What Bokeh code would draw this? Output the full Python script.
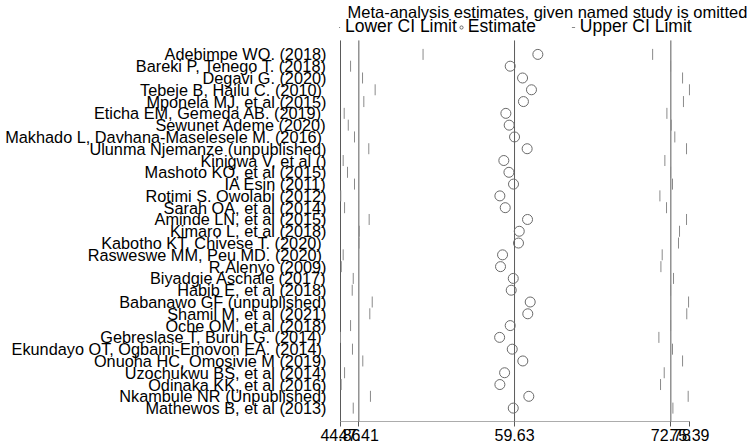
from math import pi
from bokeh.plotting import figure
from bokeh.models import Range1d, FixedTicker, Legend, LegendItem, Label
from bokeh.embed import file_html
from bokeh.resources import INLINE

studies = [
    "Adebimpe WO. (2018)",
    "Bareki P, Tenego T. (2018)",
    "Degavi G. (2020)",
    "Tebeje B, Hailu C.  (2010)",
    "Mponela MJ, et al (2015)",
    "Eticha EM, Gemeda AB.  (2019)",
    "Sewunet Ademe (2020)",
    "Makhado L, Davhana-Maselesele M.  (2016)",
    "Ulunma Njemanze (unpublished)",
    "Kinigwa V, et al ()",
    "Mashoto KO, et al (2015)",
    "IA Esin (2011)",
    "Rotimi S. Owolabi (2012)",
    "Sarah OA, et al (2014)",
    "Aminde LN, et al (2015)",
    "Kimaro L, et al (2018)",
    "Kabotho KT, Chivese T.  (2020)",
    "Rasweswe MM, Peu MD.  (2020)",
    "R.Alenyo (2009)",
    "Biyadgie Aschale (2017)",
    "Habib E, et al (2018)",
    "Babanawo GF (unpublished)",
    "Shamil M, et al (2021)",
    "Oche OM, et al (2018)",
    "Gebreslase T, Buruh G.  (2014)",
    "Ekundayo OT, Ogbaini-Emovon EA.  (2014)",
    "Onuoha HC, Omosivie M (2019)",
    "Uzochukwu BS, et al (2014)",
    "Odinaka KK, et al (2016)",
    "Nkambule NR (Unpublished)",
    "Mathewos B, et al (2013)",
]

estimate = [61.46, 59.29, 60.26, 60.96, 60.33, 58.95, 59.21, 59.63, 60.62, 58.79,
            59.19, 59.55, 58.48, 58.90, 60.65, 60.00, 59.94, 58.69, 58.53, 59.53,
            59.37, 60.86, 60.67, 59.29, 58.46, 59.45, 60.28, 58.85, 58.48, 60.75,
            59.53]

lower = [52.45, 46.76, 47.70, 48.69, 47.80, 46.26, 46.58, 47.07, 48.19, 46.18,
         46.52, 47.07, 45.99, 46.29, 48.22, 47.44, 47.42, 46.18, 46.03, 46.97,
         46.89, 48.46, 48.27, 46.76, 45.97, 46.91, 47.72, 46.29, 46.02, 48.32,
         46.97]

upper = [70.47, 71.88, 72.82, 73.36, 72.89, 71.59, 71.93, 72.21, 73.13, 71.43,
         71.88, 72.03, 71.04, 71.56, 73.13, 72.58, 72.50, 71.22, 71.12, 72.11,
         71.88, 73.29, 73.15, 71.88, 70.96, 72.03, 72.82, 71.38, 71.09, 73.26,
         72.06]

overall_estimate = 59.63
overall_lower = 47.41
overall_upper = 71.90

x_tick_labels = ["44.86", "47.41", "59.63", "72.78", "75.39"]
title_text = "Meta-analysis estimates, given named study is omitted"
legend_labels = ["Lower CI Limit", "Estimate", "Upper CI Limit"]

FONT = "Liberation Sans"
LINE = "#5a5a5a"
rows = list(range(len(studies)))
n = len(studies)
x_lo = min(lower)
x_hi = max(upper)

# layout padding (row units / fraction of data span) around the plot region
pad_top = 1.185
pad_bottom = 1.135
header_room = 4.572 - pad_top
span = x_hi - x_lo
right_room = span * 61.0 / 348.7
left_room = span * 1.0 / 348.7
y_bottom = n - 1 + pad_bottom

p = figure(width=750, height=445, output_backend="svg", toolbar_location=None,
           x_range=Range1d(x_lo - left_room, x_hi + right_room),
           y_range=Range1d(y_bottom, -pad_top - header_room),
           min_border_left=339, min_border_right=0, min_border_top=0,
           min_border_bottom=24)
p.outline_line_color = None
p.xgrid.visible = False
p.ygrid.visible = False
p.background_fill_color = "white"

# y-axis line and overall lower / estimate / upper reference lines
ref_x = [x_lo, overall_lower, overall_estimate, overall_upper]
p.segment(x0=ref_x, x1=ref_x, y0=[-pad_top] * 4, y1=[y_bottom] * 4,
          line_color=LINE, line_width=1)
# x-axis line, spanning only the data range
p.segment(x0=[x_lo], x1=[x_hi], y0=[y_bottom], y1=[y_bottom],
          line_color=LINE, line_width=1)

lo_r = p.scatter(lower, rows, marker="dash", angle=pi / 2, size=11,
                 line_color="#8a8a8a", line_width=1)
est_r = p.scatter(estimate, rows, marker="circle", size=10, fill_alpha=0,
                  line_color="#6a6a6a", line_width=1)
hi_r = p.scatter(upper, rows, marker="dash", angle=pi / 2, size=11,
                 line_color="#8a8a8a", line_width=1)

# y axis with study names
p.yaxis.ticker = FixedTicker(ticks=rows)
p.yaxis.major_label_overrides = {i: s for i, s in enumerate(studies)}
p.yaxis.major_tick_out = 0
p.yaxis.major_tick_in = 0
p.yaxis.minor_tick_out = 0
p.yaxis.minor_tick_in = 0
p.yaxis.major_label_standoff = 13
p.yaxis.axis_line_color = None
p.yaxis.major_label_text_font = FONT
p.yaxis.major_label_text_font_size = "16.3px"
p.yaxis.major_label_text_color = "black"

# x axis
xt = [x_lo, overall_lower, overall_estimate, overall_upper, x_hi]
p.xaxis.ticker = FixedTicker(ticks=xt)
p.xaxis.major_label_overrides = {t: lab for t, lab in zip(xt, x_tick_labels)}
p.xaxis.major_tick_out = 5
p.xaxis.major_tick_in = 0
p.xaxis.minor_tick_out = 0
p.xaxis.minor_tick_in = 0
p.xaxis.major_label_standoff = 2
p.xaxis.axis_line_color = None
p.xaxis.major_tick_line_color = LINE
p.xaxis.major_label_text_font = FONT
p.xaxis.major_label_text_font_size = "16px"
p.xaxis.major_label_text_color = "black"

legend = Legend(items=[LegendItem(label=legend_labels[0], renderers=[lo_r]),
                       LegendItem(label=legend_labels[1], renderers=[est_r]),
                       LegendItem(label=legend_labels[2], renderers=[hi_r])],
                location=(-5, 384), orientation="horizontal",
                padding=0, margin=0, spacing=-14, glyph_width=8, glyph_height=12,
                label_standoff=3, label_width=101,
                border_line_color=None, background_fill_alpha=0,
                label_text_font=FONT, label_text_font_size="17.5px",
                label_text_color="black")
p.add_layout(legend, "center")

p.add_layout(Label(x=8, y=409.2, x_units="screen", y_units="screen",
                   text=title_text, text_font=FONT, text_font_size="16.5px",
                   text_baseline="alphabetic", text_color="black"))

open("out.html", "w").write(file_html(p, INLINE))
